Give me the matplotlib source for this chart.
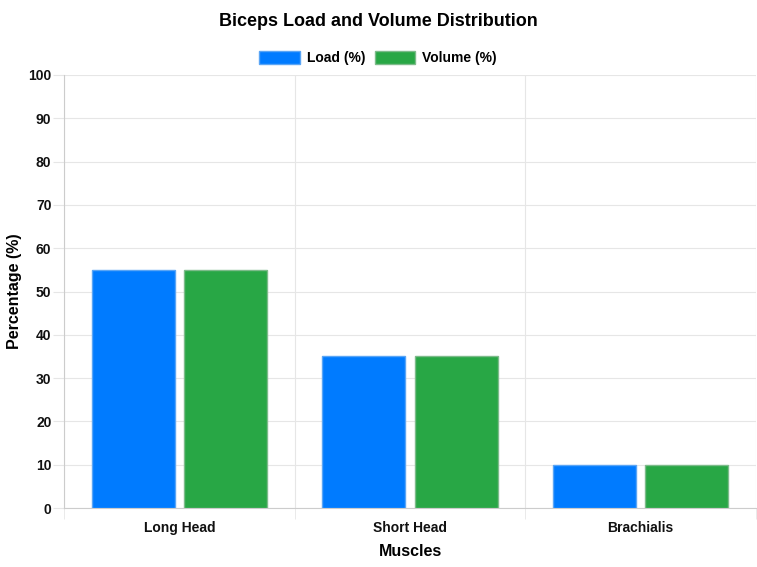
import numpy as np
import matplotlib.pyplot as plt
from matplotlib.patches import Patch

save_path = "out.png"

# Chart data
muscles = ["Long Head", "Short Head", "Brachialis"]
load_pct = [55, 35, 10]
volume_pct = [55, 35, 10]
y_ticks = list(range(0, 101, 10))

plt.rcParams['font.family'] = ['Liberation Sans', 'DejaVu Sans']
plt.rcParams['font.weight'] = 'bold'


def display_plot():
    W, H = 757, 567
    fig = plt.figure(figsize=(W / 100, H / 100), dpi=100)
    ax = fig.add_axes([64 / W, 1 - 508 / H, (756 - 64) / W, (508 - 75) / H])

    x = np.arange(len(muscles))
    slot = 0.4
    width = 0.36
    ax.bar(x - slot / 2, load_pct, width, color="#007bff", edgecolor="#5aa5f5",
           linewidth=1, label="Load (%)", zorder=3)
    ax.bar(x + slot / 2, volume_pct, width, color="#28a745", edgecolor="#7dbb8a",
           linewidth=1, label="Volume (%)", zorder=3)

    ax.set_xlim(-0.5, len(muscles) - 0.5)
    ax.set_ylim(0, 100)
    ax.set_yticks(y_ticks)
    ax.set_xticks(x)
    ax.set_xticklabels(muscles)
    ax.set_xticks(np.arange(len(muscles) + 1) - 0.5, minor=True)

    ax.grid(axis='y', color="#e6e6e6", linewidth=0.8, zorder=0)
    ax.grid(axis='x', which='minor', color="#e6e6e6", linewidth=0.8, zorder=0)
    ax.tick_params(axis='y', length=8, color="#e6e6e6", labelsize=10, pad=1)
    ax.tick_params(axis='x', which='major', length=0, labelsize=10, pad=9.5)
    ax.tick_params(axis='x', which='minor', length=8, color="#e6e6e6")
    for lab in ax.get_xticklabels() + ax.get_yticklabels():
        lab.set_fontweight('bold')
        lab.set_color("#111111")

    for side in ['top', 'right']:
        ax.spines[side].set_visible(False)
    for side in ['left', 'bottom']:
        ax.spines[side].set_color("#cccccc")
        ax.spines[side].set_linewidth(0.8)

    ax.set_xlabel("Muscles", fontsize=11.5, fontweight='bold', labelpad=6)
    ax.set_ylabel("Percentage (%)", fontsize=11.5, fontweight='bold', labelpad=4.5)

    fig.text(378 / W, 1 - 21 / H, "Biceps Load and Volume Distribution",
             ha='center', va='center', fontsize=13, fontweight='bold')

    handles = [Patch(facecolor="#007bff", edgecolor="#5aa5f5", label="Load (%)"),
               Patch(facecolor="#28a745", edgecolor="#7dbb8a", label="Volume (%)")]
    fig.legend(handles=handles, loc='center', bbox_to_anchor=(378 / W, 1 - 58 / H),
               ncol=2, frameon=False, prop={'size': 10, 'weight': 'bold'},
               handlelength=2.9, handleheight=1.1, handletextpad=0.5,
               columnspacing=0.7, borderaxespad=0, borderpad=0)

    plt.savefig(save_path, dpi=100)


if __name__ == "__main__":
    display_plot()
